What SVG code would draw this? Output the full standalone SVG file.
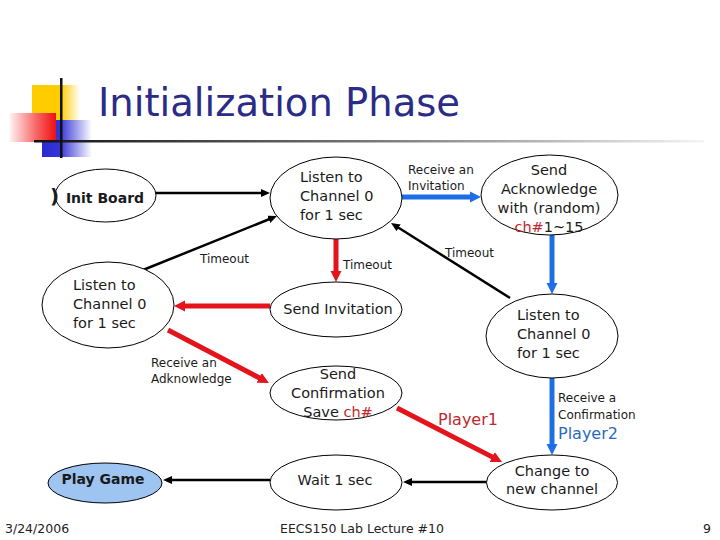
<svg xmlns="http://www.w3.org/2000/svg" width="720" height="540" viewBox="0 0 720 540">
<style>
  text { font-family: "DejaVu Sans", "Liberation Sans", sans-serif; fill: #1a1a1a; }
  .node { fill: #ffffff; stroke: #000000; stroke-width: 1; }
  .t { font-size: 14.5px; }
  .tc { font-size: 14.5px; text-anchor: middle; }
  .lbl { font-size: 12px; }
  .foot { font-size: 12.5px; fill: #222; }
  .blk { stroke: #000; stroke-width: 2.5; fill: none; }
  .red { stroke: #e3141c; stroke-width: 5; fill: none; }
  .blu { stroke: #1e6ee6; stroke-width: 5; fill: none; }
  .rd { fill: #c0282d; }
</style>
<defs>
  <marker id="ab" markerUnits="userSpaceOnUse" markerWidth="10" markerHeight="8" refX="1" refY="4" orient="auto">
    <path d="M0,0 L9,4 L0,8 z" fill="#000"/>
  </marker>
  <marker id="ar" markerUnits="userSpaceOnUse" markerWidth="12" markerHeight="12" refX="2" refY="6" orient="auto">
    <path d="M0,0.5 L11,6 L0,11.5 z" fill="#e3141c"/>
  </marker>
  <marker id="au" markerUnits="userSpaceOnUse" markerWidth="12" markerHeight="12" refX="2" refY="6" orient="auto">
    <path d="M0,0.5 L11,6 L0,11.5 z" fill="#1e6ee6"/>
  </marker>
  <linearGradient id="gy" x1="0" y1="0" x2="1" y2="0">
    <stop offset="0" stop-color="#ffcc00"/>
    <stop offset="0.6" stop-color="#ffcc00"/>
    <stop offset="1" stop-color="#ffffff"/>
  </linearGradient>
  <linearGradient id="gb" x1="0" y1="0" x2="1" y2="0">
    <stop offset="0" stop-color="#2a2ad0"/>
    <stop offset="0.35" stop-color="#3434d8"/>
    <stop offset="1" stop-color="#ffffff"/>
  </linearGradient>
  <linearGradient id="gr" x1="0" y1="0" x2="1" y2="0">
    <stop offset="0" stop-color="#fff0f0"/>
    <stop offset="0.6" stop-color="#f86060"/>
    <stop offset="1" stop-color="#ee1010"/>
  </linearGradient>
  <linearGradient id="gl" x1="0" y1="0" x2="1" y2="0">
    <stop offset="0" stop-color="#111111"/>
    <stop offset="0.5" stop-color="#777777"/>
    <stop offset="1" stop-color="#f4f4f4"/>
  </linearGradient>
</defs>

<!-- title decoration -->
<g id="decor">
  <rect x="32" y="85" width="48" height="36" fill="url(#gy)"/>
  <rect x="42" y="120" width="50" height="37" fill="url(#gb)"/>
  <rect x="10" y="113" width="46" height="29" fill="url(#gr)"/>
  <rect x="34" y="140" width="670" height="2.5" fill="url(#gl)"/>
  <rect x="60" y="78" width="2.5" height="80" fill="#111"/>
</g>
<text id="title" x="98" y="116" style="font-size:38.5px; fill:#2b2b88;">Initialization Phase</text>

<!-- connectors -->
<g id="connectors">
  <line class="blk" x1="156" y1="193" x2="262" y2="193" marker-end="url(#ab)"/>
  <line class="blk" x1="143" y1="270" x2="269.6" y2="219" marker-end="url(#ab)"/>
  <line class="blk" x1="510" y1="298" x2="397.8" y2="227.3" marker-end="url(#ab)"/>
  <line class="blk" x1="487" y1="482" x2="411" y2="482" marker-end="url(#ab)"/>
  <line class="blk" x1="270" y1="480" x2="171" y2="480" marker-end="url(#ab)"/>

  <line class="red" x1="336" y1="239" x2="336" y2="273" marker-end="url(#ar)"/>
  <line class="red" x1="270" y1="306" x2="183" y2="306" marker-end="url(#ar)"/>
  <line class="red" x1="168" y1="330" x2="261" y2="378.8" marker-end="url(#ar)"/>
  <line class="red" x1="397" y1="408" x2="494" y2="457.9" marker-end="url(#ar)"/>

  <line class="blu" x1="402" y1="197" x2="472" y2="197" marker-end="url(#au)"/>
  <line class="blu" x1="552" y1="235" x2="552" y2="285" marker-end="url(#au)"/>
  <line class="blu" x1="552" y1="378" x2="552" y2="446" marker-end="url(#au)"/>

  <text class="lbl" x="200" y="263">Timeout</text>
  <text class="lbl" x="343" y="269">Timeout</text>
  <text class="lbl" x="445" y="257">Timeout</text>
  <text class="lbl" x="408" y="174">Receive an</text>
  <text class="lbl" x="408" y="190">Invitation</text>
  <text class="lbl" x="151" y="367">Receive an</text>
  <text class="lbl" x="151" y="383">Adknowledge</text>
  <text class="lbl" x="558" y="402">Receive a</text>
  <text class="lbl" x="558" y="419">Confirmation</text>
  <text x="438" y="425" style="font-size:16px; fill:#c0282d;">Player1</text>
  <text x="558" y="439" style="font-size:16px; fill:#2a6abf;">Player2</text>
</g>

<!-- nodes -->
<g id="init-board">
  <ellipse class="node" cx="105.5" cy="195.5" rx="50.5" ry="26.5"/>
  <text x="50" y="203" style="font-size:20px; font-weight:bold;">)</text>
  <text x="105" y="203" style="font-size:14px; font-weight:bold; text-anchor:middle;">Init Board</text>
</g>
<g id="listen-top">
  <ellipse class="node" cx="336" cy="198" rx="66" ry="41"/>
  <text class="t" x="300" y="182">Listen to</text>
  <text class="t" x="300" y="201">Channel 0</text>
  <text class="t" x="300" y="220">for 1 sec</text>
</g>
<g id="send-ack">
  <ellipse class="node" cx="549.5" cy="195" rx="68.5" ry="40"/>
  <text class="tc" x="549" y="175">Send</text>
  <text class="tc" x="549" y="194">Acknowledge</text>
  <text class="tc" x="549" y="213">with (random)</text>
  <text class="tc" x="549" y="232"><tspan class="rd">ch#</tspan>1~15</text>
</g>
<g id="listen-left">
  <ellipse class="node" cx="108" cy="305" rx="66" ry="43"/>
  <text class="t" x="73" y="290">Listen to</text>
  <text class="t" x="73" y="309">Channel 0</text>
  <text class="t" x="73" y="328">for 1 sec</text>
</g>
<g id="send-invitation">
  <ellipse class="node" cx="336" cy="309.5" rx="66" ry="27.5"/>
  <text class="tc" x="338" y="314">Send Invitation</text>
</g>
<g id="listen-right">
  <ellipse class="node" cx="552" cy="336" rx="66" ry="42"/>
  <text class="t" x="517" y="320">Listen to</text>
  <text class="t" x="517" y="339">Channel 0</text>
  <text class="t" x="517" y="358">for 1 sec</text>
</g>
<g id="send-confirmation">
  <ellipse class="node" cx="336" cy="393" rx="66" ry="27"/>
  <text class="tc" x="338" y="379">Send</text>
  <text class="tc" x="338" y="398">Confirmation</text>
  <text class="tc" x="338" y="417">Save <tspan class="rd">ch#</tspan></text>
</g>
<g id="play-game">
  <ellipse cx="105" cy="483" rx="57" ry="20" fill="#9ec5f2" stroke="#000" stroke-width="1"/>
  <text x="103" y="484" style="font-size:14px; font-weight:bold; text-anchor:middle;">Play Game</text>
</g>
<g id="wait">
  <ellipse class="node" cx="336" cy="482.5" rx="66" ry="27.5"/>
  <text class="tc" x="335" y="485">Wait 1 sec</text>
</g>
<g id="change">
  <ellipse class="node" cx="552" cy="482.5" rx="65.5" ry="27.5"/>
  <text class="tc" x="552" y="476">Change to</text>
  <text class="tc" x="552" y="494">new channel</text>
</g>

<!-- footer -->
<text class="foot" x="5" y="533">3/24/2006</text>
<text class="foot" x="362" y="533" text-anchor="middle">EECS150 Lab Lecture #10</text>
<text class="foot" x="703" y="533">9</text>
</svg>
